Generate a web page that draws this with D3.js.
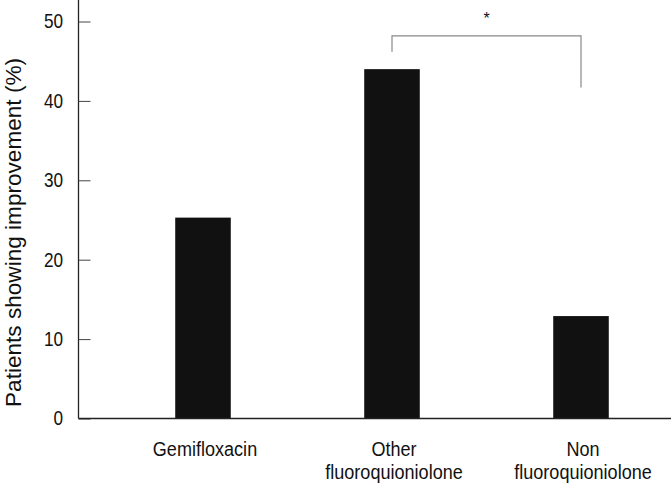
<!DOCTYPE html>
<html>
<head>
<meta charset="utf-8">
<script src="https://cdn.jsdelivr.net/npm/d3@7"></script>
<style>
  html, body { margin: 0; padding: 0; background: #fff; }
  svg { display: block; }
  text { font-family: "Liberation Sans", Arial, sans-serif; fill: #111; }
</style>
</head>
<body>
<svg id="chart" width="671" height="487"></svg>
<script>
const categories = [["Gemifloxacin"], ["Other", "fluoroquioniolone"], ["Non", "fluoroquioniolone"]];
const categoryKeys = ["Gemifloxacin", "Other fluoroquioniolone", "Non fluoroquioniolone"];
const values = [25.3, 44.0, 12.9];
const yTicks = [0, 10, 20, 30, 40, 50];
const yLabel = "Patients showing improvement (%)";
// significance bracket: between categories 2 and 3, top at 48.2, legs down to 46.2 and 41.7
const bracketFrom = "Other fluoroquioniolone";
const bracketTo = "Non fluoroquioniolone";
const bracketTop = 48.2;
const bracketLegs = [46.2, 41.7];
const bracketLabel = "*";

const svg = d3.select("#chart");
const axisX = 78.5;
const narrow = 0.86;
const y = d3.scaleLinear().domain([0, 50]).range([418.5, 21.5]);
const x = d3.scaleBand().domain(categoryKeys).range([108.5, 675.5]).paddingInner(0.706).paddingOuter(0.353);

// bars
svg.append("g").selectAll("rect").data(values).join("rect")
  .attr("x", (d, i) => x(categoryKeys[i]))
  .attr("y", d => y(d))
  .attr("width", x.bandwidth())
  .attr("height", d => y(0) - y(d))
  .attr("fill", "#111");

// y axis
const yAxis = svg.append("g").attr("transform", `translate(${axisX},0)`)
  .call(d3.axisLeft(y).tickValues(yTicks).tickSize(-12).tickFormat(d3.format("d")));
yAxis.select(".domain").attr("d", `M0,0V${y(0)}`).attr("stroke", "#222").attr("stroke-width", 1.3);
yAxis.selectAll(".tick line").attr("stroke", "#444").attr("stroke-width", 1);
yAxis.selectAll(".tick text")
  .attr("x", -15.5 / narrow)
  .attr("transform", `scale(${narrow},1)`)
  .attr("font-size", 20).attr("fill", "#111")
  .style("font-family", '"Liberation Sans", Arial, sans-serif');

// x axis line
svg.append("line").attr("x1", axisX).attr("x2", 671).attr("y1", y(0)).attr("y2", y(0))
  .attr("stroke", "#222").attr("stroke-width", 1.5);

// x labels
const xl = svg.append("g");
categories.forEach((lines, i) => {
  const cx = x(categoryKeys[i]) + x.bandwidth() / 2 + 2;
  const t = xl.append("text").attr("text-anchor", "middle").attr("font-size", 21)
    .attr("transform", `translate(${cx},0) scale(${narrow},1)`);
  lines.forEach((ln, j) => {
    t.append("tspan").attr("x", 0).attr("y", 456 + j * 23).text(ln);
  });
});

// y label
svg.append("text")
  .attr("transform", `translate(20.5,${(58 + 407) / 2}) rotate(-90)`)
  .attr("text-anchor", "middle").attr("font-size", 22)
  .attr("textLength", 349).attr("lengthAdjust", "spacingAndGlyphs")
  .text(yLabel);

// bracket
const bx1 = x(bracketFrom) + x.bandwidth() / 2;
const bx2 = x(bracketTo) + x.bandwidth() / 2;
svg.append("path")
  .attr("d", `M${bx1},${y(bracketLegs[0])}V${y(bracketTop)}H${bx2}V${y(bracketLegs[1])}`)
  .attr("fill", "none").attr("stroke", "#888").attr("stroke-width", 1.2);
svg.append("text").attr("x", (bx1 + bx2) / 2).attr("y", 24)
  .attr("text-anchor", "middle").attr("font-size", 16).text(bracketLabel);
</script>
</body>
</html>
